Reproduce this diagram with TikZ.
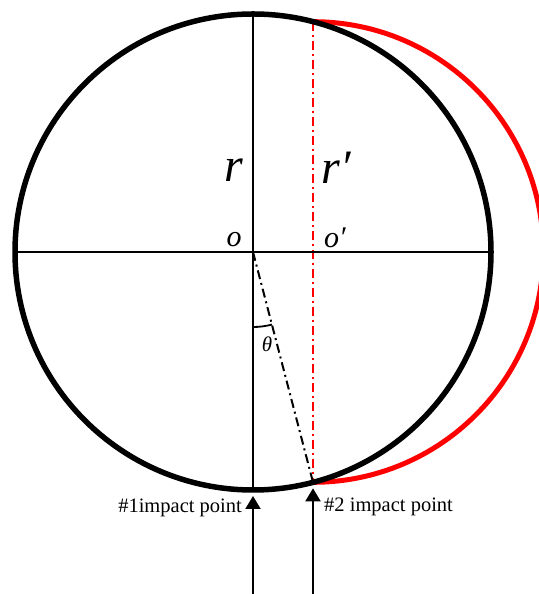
\documentclass[tikz,border=0pt]{standalone}
\usepackage{fontspec}
\setmainfont{Liberation Serif}
\usetikzlibrary{arrows.meta}

\begin{document}
\begin{tikzpicture}[x=1pt,y=1pt,
  dashdot/.style={dash pattern=on 9pt off 4pt on 2pt off 4pt},
  hitarrow/.style={line width=2pt,-{Triangle[width=15pt,length=13pt]},shorten >=6pt},
  biglbl/.style={font=\fontsize{48}{52}\selectfont\itshape},
  midlbl/.style={font=\fontsize{30}{34}\selectfont\itshape},
  txtlbl/.style={font=\fontsize{20.5}{24}\selectfont}]
  \useasboundingbox (0,0) rectangle (538,594);
  \coordinate (o) at (253,342);
  \coordinate (o1) at (313,342);
  \coordinate (left) at (15,342);
  \coordinate (right) at (491,342);
  \coordinate (top) at (253,580);
  \coordinate (top1) at (313,572.3);
  \coordinate (p1) at (253,104);
  \coordinate (p2) at (313,111.7);
  \coordinate (b1) at (253,0);
  \coordinate (b2) at (313,0);
  % deformed ball
  \draw[red,line width=5pt] (top1) arc[start angle=90,end angle=-90,radius=230.3];
  \draw[red,line width=2.5pt,dashdot] (top1) -- (p2);
  % original ball
  \draw[line width=5.5pt] (o) circle[radius=238];
  \draw[line width=2pt] (left) -- (right);
  \draw[line width=2pt] (top) -- (p1);
  \draw[line width=2pt,dashdot] (o) -- (p2);
  \draw[line width=1.8pt] (o) ++(-90:75) arc[start angle=-90,end angle=-75.4,radius=75];
  % impacts
  \draw[hitarrow] (b1) -- (p1);
  \draw[hitarrow] (b2) -- (p2);
  \node[biglbl] (r) at (234,424) {r};
  \node[biglbl] (r1) at (336,426) {r′};
  \node[midlbl] (olbl) at (234,354) {o};
  \node[midlbl] (o1lbl) at (335,356) {o′};
  \node[font=\fontsize{21}{24}\selectfont\itshape] (th) at (267,250) {θ};
  \node[txtlbl,anchor=base east,inner sep=0pt] (imp1) at (242,81) {\#1impact point};
  \node[txtlbl,anchor=base west,inner sep=0pt] (imp2) at (324,82) {\#2 impact point};
\end{tikzpicture}
\end{document}
